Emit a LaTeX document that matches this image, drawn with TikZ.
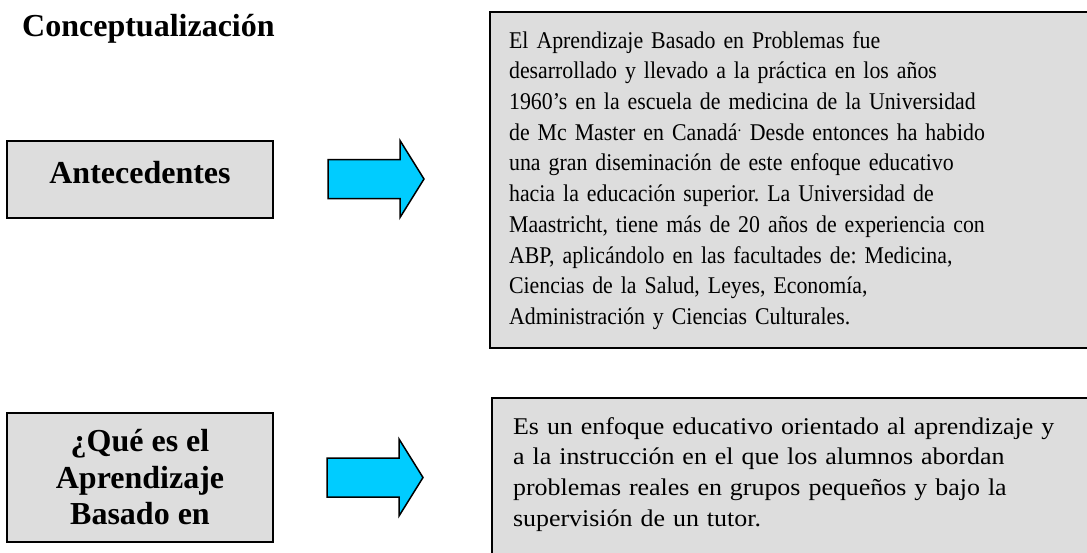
\documentclass[tikz,border=0pt]{standalone}
\usepackage{fontspec}
\setmainfont{Liberation Serif}
\newfontfamily\narrowserif[FakeStretch=0.91]{Liberation Serif}
\newfontfamily\wideserif[FakeStretch=1.08]{Liberation Serif}
\usetikzlibrary{positioning}
\definecolor{boxgray}{HTML}{DDDDDD}
\definecolor{arrowcyan}{HTML}{00CCFF}
\frenchspacing

\begin{document}
\begin{tikzpicture}[x=1pt, y=-1pt,
  topic/.style={rectangle, draw=black, line width=2pt, fill=boxgray, minimum width=266pt, align=center, font=\bfseries\fontsize{32}{36.5}\selectfont},
  detail/.style={rectangle, draw=black, line width=2.2pt, fill=boxgray, anchor=north west, align=left, text width=600pt, inner ysep=18pt, text height=18pt},
  blockarrow/.pic={\draw[fill=arrowcyan, line width=1.5pt, line join=miter] (0,-19.5) -- (72,-19.5) -- (72,-38.5) -- (96,0) -- (72,38.5) -- (72,19.5) -- (0,19.5) -- cycle;}
]
  \clip (0,0) rectangle (1087,552);
  \fill[white] (0,0) rectangle (1087,552);
  % Title
  \node[anchor=base west, inner sep=0pt, font=\bfseries\fontsize{32}{36.5}\selectfont] (title) at (22,36) {Conceptualización};
  % Left topics
  \node[topic, minimum height=77pt, text height=22pt, text depth=15pt] (antecedentes) at (140,179.5) {Antecedentes};
  \node[topic, minimum height=129pt] (quees) at (140,477.5) {¿Qué es el\\Aprendizaje\\Basado en};
  % Arrows between topics and details
  \pic at (328,179) {blockarrow};
  \pic at (327,477.5) {blockarrow};
  % Right details
  \node[detail, inner xsep=19pt, text depth=282pt, font=\narrowserif\fontsize{24}{30.7}\selectfont] (historia) at (489,11)
    {El Aprendizaje Basado en Problemas fue\\
     desarrollado y llevado a la práctica en los años\\
     1960’s en la escuela de medicina de la Universidad\\
     de Mc Master en Canadá\textsuperscript{.} Desde entonces ha habido\\
     una gran diseminación de este enfoque educativo\\
     hacia la educación superior. La Universidad de\\
     Maastricht, tiene más de 20 años de experiencia con\\
     ABP, aplicándolo en las facultades de: Medicina,\\
     Ciencias de la Salud, Leyes, Economía,\\
     Administración y Ciencias Culturales.};
  \node[detail, inner xsep=21pt, text depth=200pt, font=\wideserif\fontsize{24}{30.8}\selectfont] (definicion) at (491,397)
    {Es un enfoque educativo orientado al aprendizaje y\\
     a la instrucción en el que los alumnos abordan\\
     problemas reales en grupos pequeños y bajo la\\
     supervisión de un tutor.};
\end{tikzpicture}
\end{document}
